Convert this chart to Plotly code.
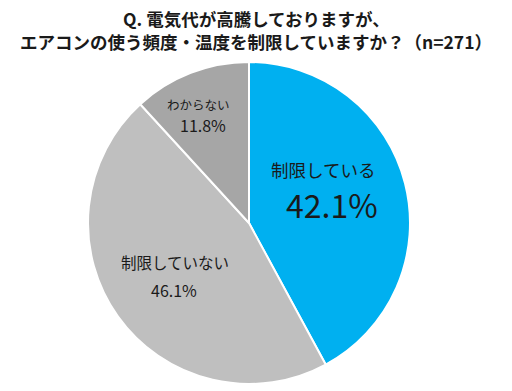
import plotly.graph_objects as go

labels = ["制限している", "制限していない", "わからない"]
values = [42.1, 46.1, 11.8]
colors = ["#00B0F0", "#BFBFBF", "#A6A6A6"]
title_lines = ["Q. 電気代が高騰しておりますが、", "エアコンの使う頻度・温度を制限していますか？（n=271）"]

W, H = 512, 391
cx, cy, r = 249, 223, 161

fig = go.Figure(go.Pie(
    labels=labels, values=values, sort=False, direction="clockwise", rotation=0,
    marker=dict(colors=colors, line=dict(color="white", width=2)),
    textinfo="none", hoverinfo="label+percent", showlegend=False,
    domain=dict(x=[(cx - r) / W, (cx + r) / W], y=[(H - cy - r) / H, (H - cy + r) / H]),
))

font = "Noto Sans CJK JP"
pos = [((323, 170, 17.5), (332, 204, 32)),
       ((175, 262, 15.5), (174, 290, 16)),
       ((198, 104, 12.5), (203, 125, 16))]
ann = []
for lab, val, ((lx, ly, ls), (vx, vy, vs)) in zip(labels, values, pos):
    ann.append(dict(x=lx / W, y=1 - ly / H, xref="paper", yref="paper", text=lab,
                    xanchor="center", yanchor="middle",
                    showarrow=False, font=dict(family=font, size=ls, color="#1a1a1a")))
    ann.append(dict(x=vx / W, y=1 - vy / H, xref="paper", yref="paper", text=f"{val:.1f}%",
                    xanchor="center", yanchor="middle",
                    showarrow=False, font=dict(family=font, size=vs, color="#1a1a1a")))

for line, ty in zip(title_lines, [18, 41]):
    ann.append(dict(x=256 / W, y=1 - ty / H, xref="paper", yref="paper",
                    xanchor="center", yanchor="middle", borderpad=0,
                    text=f"<b>{line}</b>",
                    showarrow=False, font=dict(family=font, size=17.5, color="#1a1a1a")))

fig.update_layout(width=W, height=H, margin=dict(l=0, r=0, t=0, b=0),
                  paper_bgcolor="white", plot_bgcolor="white", annotations=ann)
fig.write_html("out.html", config={"displayModeBar": False},
               post_script="document.body.style.margin='0';")
